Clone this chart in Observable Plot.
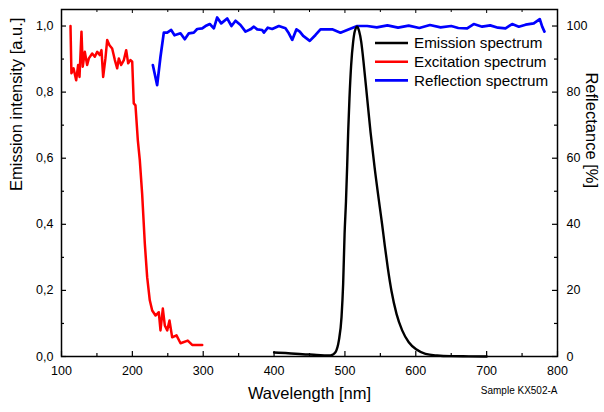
<!DOCTYPE html>
<html>
<head>
<meta charset="utf-8">
<script src="https://cdn.jsdelivr.net/npm/d3@7"></script>
<script src="https://cdn.jsdelivr.net/npm/@observablehq/plot@0.6"></script>
<style>
  html, body { margin: 0; padding: 0; background: #fff; }
  #chart { width: 604px; height: 412px; }
  svg { font-family: "Liberation Sans", Arial, sans-serif; }
</style>
</head>
<body>
<div id="chart"></div>
<script>
// Emission spectrum (nm, a.u.)
const emissionNm = [400, 420, 440, 460, 475, 479.6, 483, 486.7, 491.4, 495.2, 497.5, 499.5, 501.5, 503.2, 504.6, 506.4, 508.8, 511.6, 514, 517.3, 520, 523, 526.7, 531.4, 536.1, 541.7, 549.2, 552.6, 556.3, 560.5, 565.7, 572.8, 580.8, 590.1, 601, 613.7, 630, 650, 675, 700];
const emissionVal = [0.012, 0.010, 0.007, 0.005, 0.003, 0.003, 0.006, 0.013, 0.048, 0.119, 0.22, 0.37, 0.47, 0.579, 0.68, 0.781, 0.882, 0.952, 0.985, 0.998, 0.985, 0.952, 0.882, 0.781, 0.68, 0.575, 0.452, 0.398, 0.335, 0.268, 0.198, 0.129, 0.079, 0.043, 0.021, 0.008, 0.003, 0.001, 0.0005, 0.0];

// Excitation spectrum (nm, a.u.)
const excitationNm = [112.7, 114, 117, 120.7, 123.5, 125.4, 128.2, 130, 132.9, 136.2, 138.6, 143.3, 147, 150.4, 154, 156.4, 158.8, 162, 164.5, 167.7, 171.5, 175.3, 178.6, 180.9, 184.2, 188, 191.3, 194.1, 197.4, 199.8, 202, 204.4, 207.7, 210.5, 213.8, 217.6, 220.9, 224.6, 228, 232.7, 237.3, 239.7, 243, 245.8, 249.2, 252.4, 256.2, 262.3, 268, 278.2, 284.4, 298.6];
const excitationVal = [1.0, 0.857, 0.872, 0.836, 0.882, 0.846, 0.983, 0.877, 0.922, 0.882, 0.902, 0.917, 0.907, 0.922, 0.912, 0.927, 0.846, 0.902, 0.958, 0.942, 0.932, 0.897, 0.872, 0.902, 0.882, 0.897, 0.927, 0.887, 0.897, 0.892, 0.766, 0.76, 0.655, 0.594, 0.493, 0.341, 0.24, 0.17, 0.139, 0.124, 0.134, 0.079, 0.145, 0.094, 0.079, 0.109, 0.058, 0.064, 0.04, 0.048, 0.035, 0.035];

// Reflection spectrum (nm, %)
const reflectionNm = [228.9, 235, 239.7, 244.4, 249.2, 254.8, 259.5, 267.9, 274, 279.7, 286.7, 291.5, 298.6, 303.2, 309.3, 315, 319.7, 325.4, 333.8, 339.9, 345.6, 352.6, 359.7, 366.7, 371.5, 376.2, 383.2, 385.6, 391.2, 397.4, 406.7, 416.1, 420.8, 425.6, 431.6, 436.3, 441.1, 450.4, 458.5, 465.5, 482, 493.7, 503.2, 517.3, 531.4, 545, 560, 575, 590, 605, 620, 635, 650, 660, 672.5, 681.8, 693.7, 705, 716, 726.6, 736, 745.4, 755, 766.5, 775, 778.4, 781.6];
const reflectionVal = [88.2, 82.1, 90.7, 98.0, 98.0, 98.8, 97.2, 97.8, 96.0, 97.8, 98.0, 99.1, 99.3, 100.0, 100.6, 99.3, 102.6, 100.8, 102.3, 100.0, 101.6, 100.3, 98.3, 99.0, 99.8, 99.0, 98.8, 98.0, 99.5, 99.1, 100.0, 99.3, 97.8, 95.8, 99.0, 98.3, 97.0, 95.5, 97.3, 99.0, 99.0, 98.0, 98.8, 100.0, 100.0, 99.6, 100.2, 99.5, 100.1, 99.4, 100.3, 99.6, 100.0, 99.4, 99.3, 100.6, 99.8, 100.2, 99.5, 99.3, 100.6, 99.8, 100.4, 100.8, 102.1, 99.8, 98.3];

// Tick values
const xMajor = [100, 200, 300, 400, 500, 600, 700, 800];
const xMinor = [150, 250, 350, 450, 550, 650, 750];
const yMajor = [0, 0.2, 0.4, 0.6, 0.8, 1.0];
const yMinor = [0.1, 0.3, 0.5, 0.7, 0.9];
const rightMajor = [0, 20, 40, 60, 80, 100];
const rightMinor = [10, 30, 50, 70, 90];

const seriesNames = ["Emission spectrum", "Excitation spectrum", "Reflection spectrum"];
const seriesColors = ["#000000", "#ff0000", "#0000ff"];

const emission = emissionNm.map((x, i) => ({x, y: emissionVal[i]}));
const excitation = excitationNm.map((x, i) => ({x, y: excitationVal[i]}));
const reflection = reflectionNm.map((x, i) => ({x, y: reflectionVal[i] / 100}));

const W = 604, H = 412;
const mL = 61, mR = 47, mT = 9, mB = 56;
const pw = W - mL - mR, ph = H - mT - mB;

const comma = d => d.toFixed(1).replace(".", ",");

const chart = Plot.plot({
  width: W,
  height: H,
  marginLeft: mL,
  marginRight: mR,
  marginTop: mT,
  marginBottom: mB,
  style: {fontFamily: "Liberation Sans, Arial, sans-serif", fontSize: "12.5px", color: "#000", background: "#fff"},
  x: {domain: [100, 800]},
  y: {domain: [0, 1.05]},
  marks: [
    // tick labels
    Plot.axisX(xMajor, {anchor: "bottom", tickSize: 0, tickPadding: 10, fontSize: 12.5, label: null}),
    Plot.axisY(yMajor, {anchor: "left", tickSize: 0, tickPadding: 8, fontSize: 12.5, tickFormat: comma, label: null}),
    Plot.axisY(yMajor, {anchor: "right", tickSize: 0, tickPadding: 9, fontSize: 12.5, tickFormat: d => Math.round(d * 100), label: null}),
    // inward ticks bottom / top
    Plot.tickX(xMajor, {x: d => d, insetTop: ph - 5, stroke: "#000", strokeWidth: 1.2}),
    Plot.tickX(xMinor, {x: d => d, insetTop: ph - 3, stroke: "#000", strokeWidth: 1.2}),
    Plot.tickX(xMajor, {x: d => d, insetBottom: ph - 4, stroke: "#000", strokeWidth: 1}),
    Plot.tickX(xMinor, {x: d => d, insetBottom: ph - 3, stroke: "#000", strokeWidth: 1}),
    // inward ticks left / right
    Plot.tickY(yMajor, {y: d => d, insetRight: pw - 5, stroke: "#000", strokeWidth: 1.2}),
    Plot.tickY(yMinor, {y: d => d, insetRight: pw - 3, stroke: "#000", strokeWidth: 1.2}),
    Plot.tickY(rightMajor, {y: d => d / 100, insetLeft: pw - 5, stroke: "#000", strokeWidth: 1.2}),
    Plot.tickY(rightMinor, {y: d => d / 100, insetLeft: pw - 3, stroke: "#000", strokeWidth: 1.2}),
    // data
    Plot.line(reflection, {x: "x", y: "y", stroke: seriesColors[2], strokeWidth: 2.7, curve: "linear"}),
    Plot.line(excitation, {x: "x", y: "y", stroke: seriesColors[1], strokeWidth: 2.5, curve: "linear"}),
    Plot.line(emission, {x: "x", y: "y", stroke: seriesColors[0], strokeWidth: 2.4, curve: "monotone-x"}),
    Plot.frame({stroke: "#000", strokeWidth: 1.5}),
    // axis titles
    Plot.text(["Wavelength [nm]"], {frameAnchor: "bottom", dy: 42, fontSize: 16.5, text: d => d}),
    Plot.text(["Emission intensity [a.u.]"], {frameAnchor: "left", dx: -45, dy: 8, rotate: -90, fontSize: 16.5, text: d => d}),
    Plot.text(["Reflectance [%]"], {frameAnchor: "right", dx: 34, dy: 5, rotate: 90, fontSize: 16.5, text: d => d}),
    Plot.text(["Sample KX502-A"], {frameAnchor: "bottom-right", dy: 37, textAnchor: "end", fontSize: 10, text: d => d})
  ]
});

// Legend inside plot area (top right)
const svg = d3.select(chart);
const lg = svg.append("g").attr("transform", `translate(${375}, ${43})`);
seriesNames.forEach((name, i) => {
  const row = lg.append("g").attr("transform", `translate(0, ${i * 18.7})`);
  row.append("line").attr("x1", 0).attr("x2", 33).attr("y1", 0).attr("y2", 0)
    .attr("stroke", seriesColors[i]).attr("stroke-width", 2.6);
  row.append("text").attr("x", 39).attr("y", 0).attr("dy", "0.35em")
    .attr("text-anchor", "start")
    .attr("font-size", 15.2).attr("fill", "#000").text(name);
});

document.getElementById("chart").appendChild(chart);
</script>
</body>
</html>
